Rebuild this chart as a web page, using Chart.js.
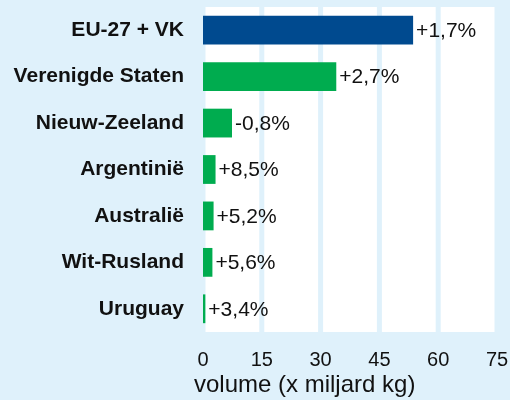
<!DOCTYPE html>
<html>
<head>
<meta charset="utf-8">
<script src="https://cdn.jsdelivr.net/npm/chart.js@4/dist/chart.umd.min.js"></script>
<style>
html,body{margin:0;padding:0;background:#dff1fb;}
#wrap{width:510px;height:400px;}
</style>
</head>
<body>
<div id="wrap"><canvas id="c" width="510" height="400"></canvas></div>
<script>
const categories = ["EU-27 + VK", "Verenigde Staten", "Nieuw-Zeeland", "Argentinië", "Australië", "Wit-Rusland", "Uruguay"];
const volumes = [53.6, 34.0, 7.4, 3.2, 2.7, 2.4, 0.6];
const changeLabels = ["+1,7%", "+2,7%", "-0,8%", "+8,5%", "+5,2%", "+5,6%", "+3,4%"];
const xTicks = [0, 15, 30, 45, 60, 75];
const axisTitle = "volume (x miljard kg)";

const BG = "#dff1fb";
const FONT = "'Liberation Sans', Arial, sans-serif";
const barColors = categories.map((c, i) => i === 0 ? "#004a8f" : "#00ac4f");

const bgPlugin = {
  id: "bg",
  beforeDraw(chart) {
    const ctx = chart.ctx, a = chart.chartArea;
    const xs = chart.scales.x;
    ctx.save();
    ctx.fillStyle = BG;
    ctx.fillRect(0, 0, chart.width, chart.height);
    ctx.fillStyle = "#ffffff";
    ctx.fillRect(a.left, a.top, a.right - a.left, a.bottom - a.top);
    // vertical grid lines in the background colour, below the bars
    ctx.strokeStyle = BG;
    ctx.lineWidth = 5;
    xTicks.forEach(v => {
      const px = xs.getPixelForValue(v);
      ctx.beginPath();
      ctx.moveTo(px, a.top);
      ctx.lineTo(px, a.bottom);
      ctx.stroke();
    });
    ctx.restore();
  }
};

const labelPlugin = {
  id: "vlabels",
  afterDatasetsDraw(chart) {
    const ctx = chart.ctx;
    const meta = chart.getDatasetMeta(0);
    ctx.save();
    ctx.font = "21px " + FONT;
    ctx.fillStyle = "#111111";
    ctx.textAlign = "left";
    ctx.textBaseline = "middle";
    meta.data.forEach((bar, i) => {
      ctx.fillText(changeLabels[i], bar.x + 3, bar.y + 1);
    });
    ctx.restore();
  },
  afterDraw(chart) {
    // x-axis title, placed left of centre as in the reference
    const ctx = chart.ctx, a = chart.chartArea;
    ctx.save();
    ctx.font = "24px " + FONT;
    ctx.fillStyle = "#111111";
    ctx.textAlign = "left";
    ctx.textBaseline = "alphabetic";
    ctx.fillText(axisTitle, a.left - 9, a.bottom + 60);
    ctx.restore();
  }
};

new Chart(document.getElementById("c"), {
  type: "bar",
  data: {
    labels: categories,
    datasets: [{
      data: volumes,
      backgroundColor: barColors,
      borderWidth: 0,
      categoryPercentage: 1,
      barPercentage: 0.62,
      clip: 4
    }]
  },
  options: {
    indexAxis: "y",
    responsive: false,
    animation: false,
    layout: { padding: { top: 7, right: 13, left: 0, bottom: 0 } },
    plugins: { legend: { display: false }, tooltip: { enabled: false } },
    scales: {
      x: {
        min: 0, max: 75,
        afterBuildTicks(scale) { scale.ticks = xTicks.map(v => ({ value: v })); },
        grid: { display: false, drawTicks: false },
        border: { display: false },
        ticks: { color: "#111111", font: { family: FONT, size: 20 }, padding: 16, maxRotation: 0 },
        afterFit(scale) {
          scale.height = 68;
          scale.paddingLeft = 0; scale.paddingRight = 0;
        }
      },
      y: {
        grid: { display: false, drawTicks: false },
        border: { display: false },
        ticks: { color: "#111111", font: { family: FONT, size: 21, weight: "bold" }, padding: 19 },
        afterFit(scale) {
          scale.width = 203;
          scale.paddingTop = 0; scale.paddingBottom = 0;
        }
      }
    }
  },
  plugins: [bgPlugin, labelPlugin]
});
</script>
</body>
</html>
